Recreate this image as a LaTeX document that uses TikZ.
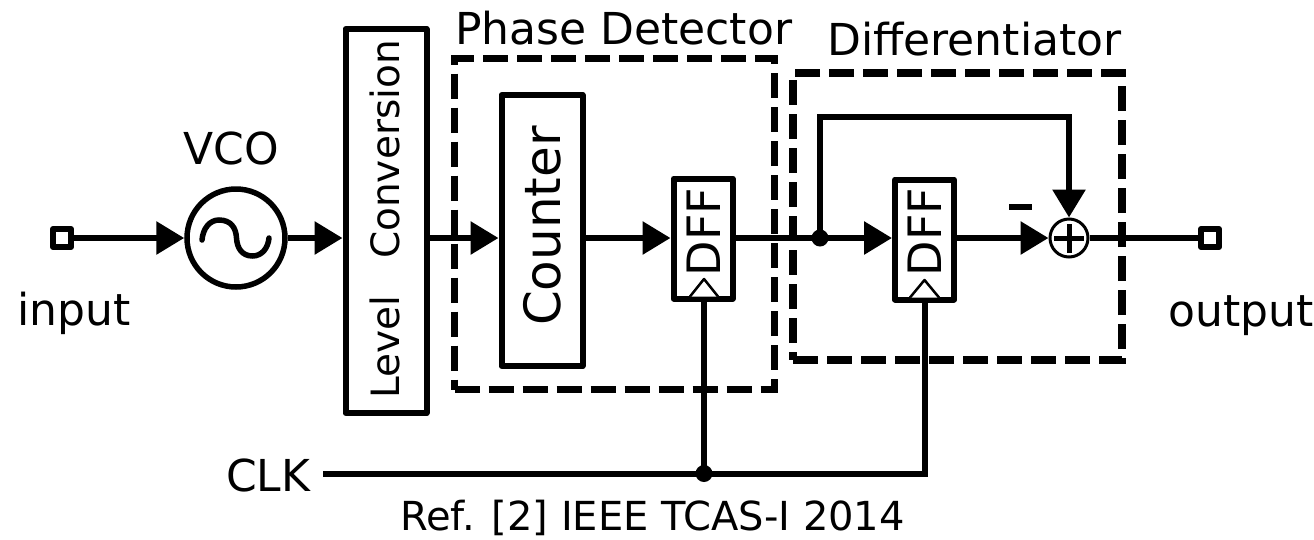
\documentclass[tikz,border=0pt]{standalone}
\usepackage{fontspec}
\setmainfont{DejaVu Sans}
\usetikzlibrary{arrows.meta}
\tikzset{
  wire/.style={line width=6pt},
  flow/.style={wire,-{Triangle[length=28pt,width=32pt]}},
  blockbox/.style={draw,line width=6pt,fill=white,line join=round,inner sep=0pt,minimum width=#1},
  dashbox/.style={draw,line width=7.5pt,dash pattern=on 25pt off 9pt,inner sep=0pt},
  dotnode/.style={circle,fill=black,inner sep=0pt,minimum size=17pt},
  portbox/.style={draw,line width=6pt,line join=round,inner sep=0pt,minimum size=18pt},
  label/.style={inner sep=0pt,anchor=base west},
  vlabel/.style={inner sep=0pt,rotate=90,anchor=center},
  clkmark/.style={draw=black,fill=white,line width=2.5pt,line join=round}
}
\begin{document}
\begin{tikzpicture}[x=1pt,y=-1pt]
\useasboundingbox (0,0) rectangle (1314,539);
\fill[white] (0,0) rectangle (1314,539);

% dashed groups
\node[dashbox,minimum width=320pt,minimum height=331pt] (pd) at (614.5,224) {};
\node[dashbox,minimum width=329pt,minimum height=287pt] (diff) at (957.5,216.5) {};

% blocks
\node[blockbox=81pt,minimum height=384pt] (lvl) at (386,221) {};
\node[vlabel,font=\fontsize{39pt}{39pt}\selectfont] (tconv) at (385,149.5) {Conversion};
\node[vlabel,font=\fontsize{39pt}{39pt}\selectfont] (tlevel) at (385,347.5) {Level};
\node[blockbox=81pt,minimum height=271pt] (cnt) at (542,230.5) {};
\node[vlabel,font=\fontsize{50pt}{50pt}\selectfont] (tcnt) at (542,226) {Counter};
\node[blockbox=59pt,minimum height=120pt] (dff1) at (703,238.5) {};
\node[vlabel,font=\fontsize{46pt}{46pt}\selectfont] (t1) at (703.5,232) {DFF};
\node[blockbox=59pt,minimum height=120pt] (dff2) at (924.5,239.5) {};
\node[vlabel,font=\fontsize{46pt}{46pt}\selectfont] (t2) at (925,232) {DFF};

% VCO
\node[circle,draw,line width=5.5pt,minimum size=98pt,inner sep=0pt] (vco) at (236,238) {};
\draw[line width=5.5pt,line cap=round] (202,240) .. controls (203,228) and (210,220) .. (219,220) .. controls (231,220) and (236,228) .. (236.5,238) .. controls (237,248) and (242,256) .. (252.5,256) .. controls (262,256) and (268,248) .. (269,238);

% summer
\node[circle,draw,line width=3pt,minimum size=38pt,inner sep=0pt] (sum) at (1069,238) {};
\draw[line width=5pt] (1054,238) -- (1084,238) (1069,224) -- (1069,253);

% ports and dots
\node[portbox] (in) at (62,238) {};
\node[portbox] (out) at (1210,238) {};
\node[dotnode] (fb) at (820,238) {};
\node[dotnode] (ck) at (704,473.5) {};
\coordinate (clkstart) at (323,473.5);
\coordinate (clkend) at (924.5,473.5);
\coordinate (fbup) at (820,117);
\coordinate (fbright) at (1069,117);

% clock triangles
\draw[clkmark] (690,296.5) -- (704,279) -- (718,296.5);
\draw[clkmark] (910,297.5) -- (924.5,280) -- (939,297.5);

% connectors
\draw[flow] (in.east) -- (vco.west);
\draw[flow] (vco.east) -- (lvl.west |- vco.east);
\draw[flow] (lvl.east |- vco.east) -- (cnt.west |- vco.east);
\draw[flow] (cnt.east |- vco.east) -- (dff1.west |- vco.east);
\draw[wire] (dff1.east |- vco.east) -- (fb.center);
\draw[flow] (fb.center) -- (dff2.west |- fb.center);
\draw[flow] (dff2.east |- fb.center) -- (sum.west);
\draw[wire] (sum.east) -- (out.west);
\draw[wire,line join=miter] (fb.center) -- (fbup) -- (fbright) -- ++(0,3);
\draw[flow] (fbright) -- (sum.north);
\draw[wire] (clkstart) -- (ck.center);
\draw[wire,line join=miter] (ck.center) -- (clkend) -- (dff2.south);
\draw[wire] (ck.center) -- (ck.center |- dff1.south);

% minus
\fill (1009,204) rectangle (1032,210);

% labels
\node[label,font=\fontsize{44pt}{44pt}\selectfont] (lvco) at (183,164) {VCO};
\node[label,font=\fontsize{44pt}{44pt}\selectfont] (lin) at (17,325) {input};
\node[label,font=\fontsize{44pt}{44pt}\selectfont] (lout) at (1168,326) {output};
\node[label,font=\fontsize{44pt}{44pt}\selectfont] (lclk) at (226,491.5) {CLK};
\node[label,font=\fontsize{44pt}{44pt}\selectfont] (lpd) at (455,44.5) {Phase Detector};
\node[label,font=\fontsize{44pt}{44pt}\selectfont] (ldf) at (827,55) {Differentiator};
\node[label,font=\fontsize{40pt}{40pt}\selectfont] (lref) at (400,530) {Ref. [2] IEEE TCAS-I 2014};
\end{tikzpicture}
\end{document}
